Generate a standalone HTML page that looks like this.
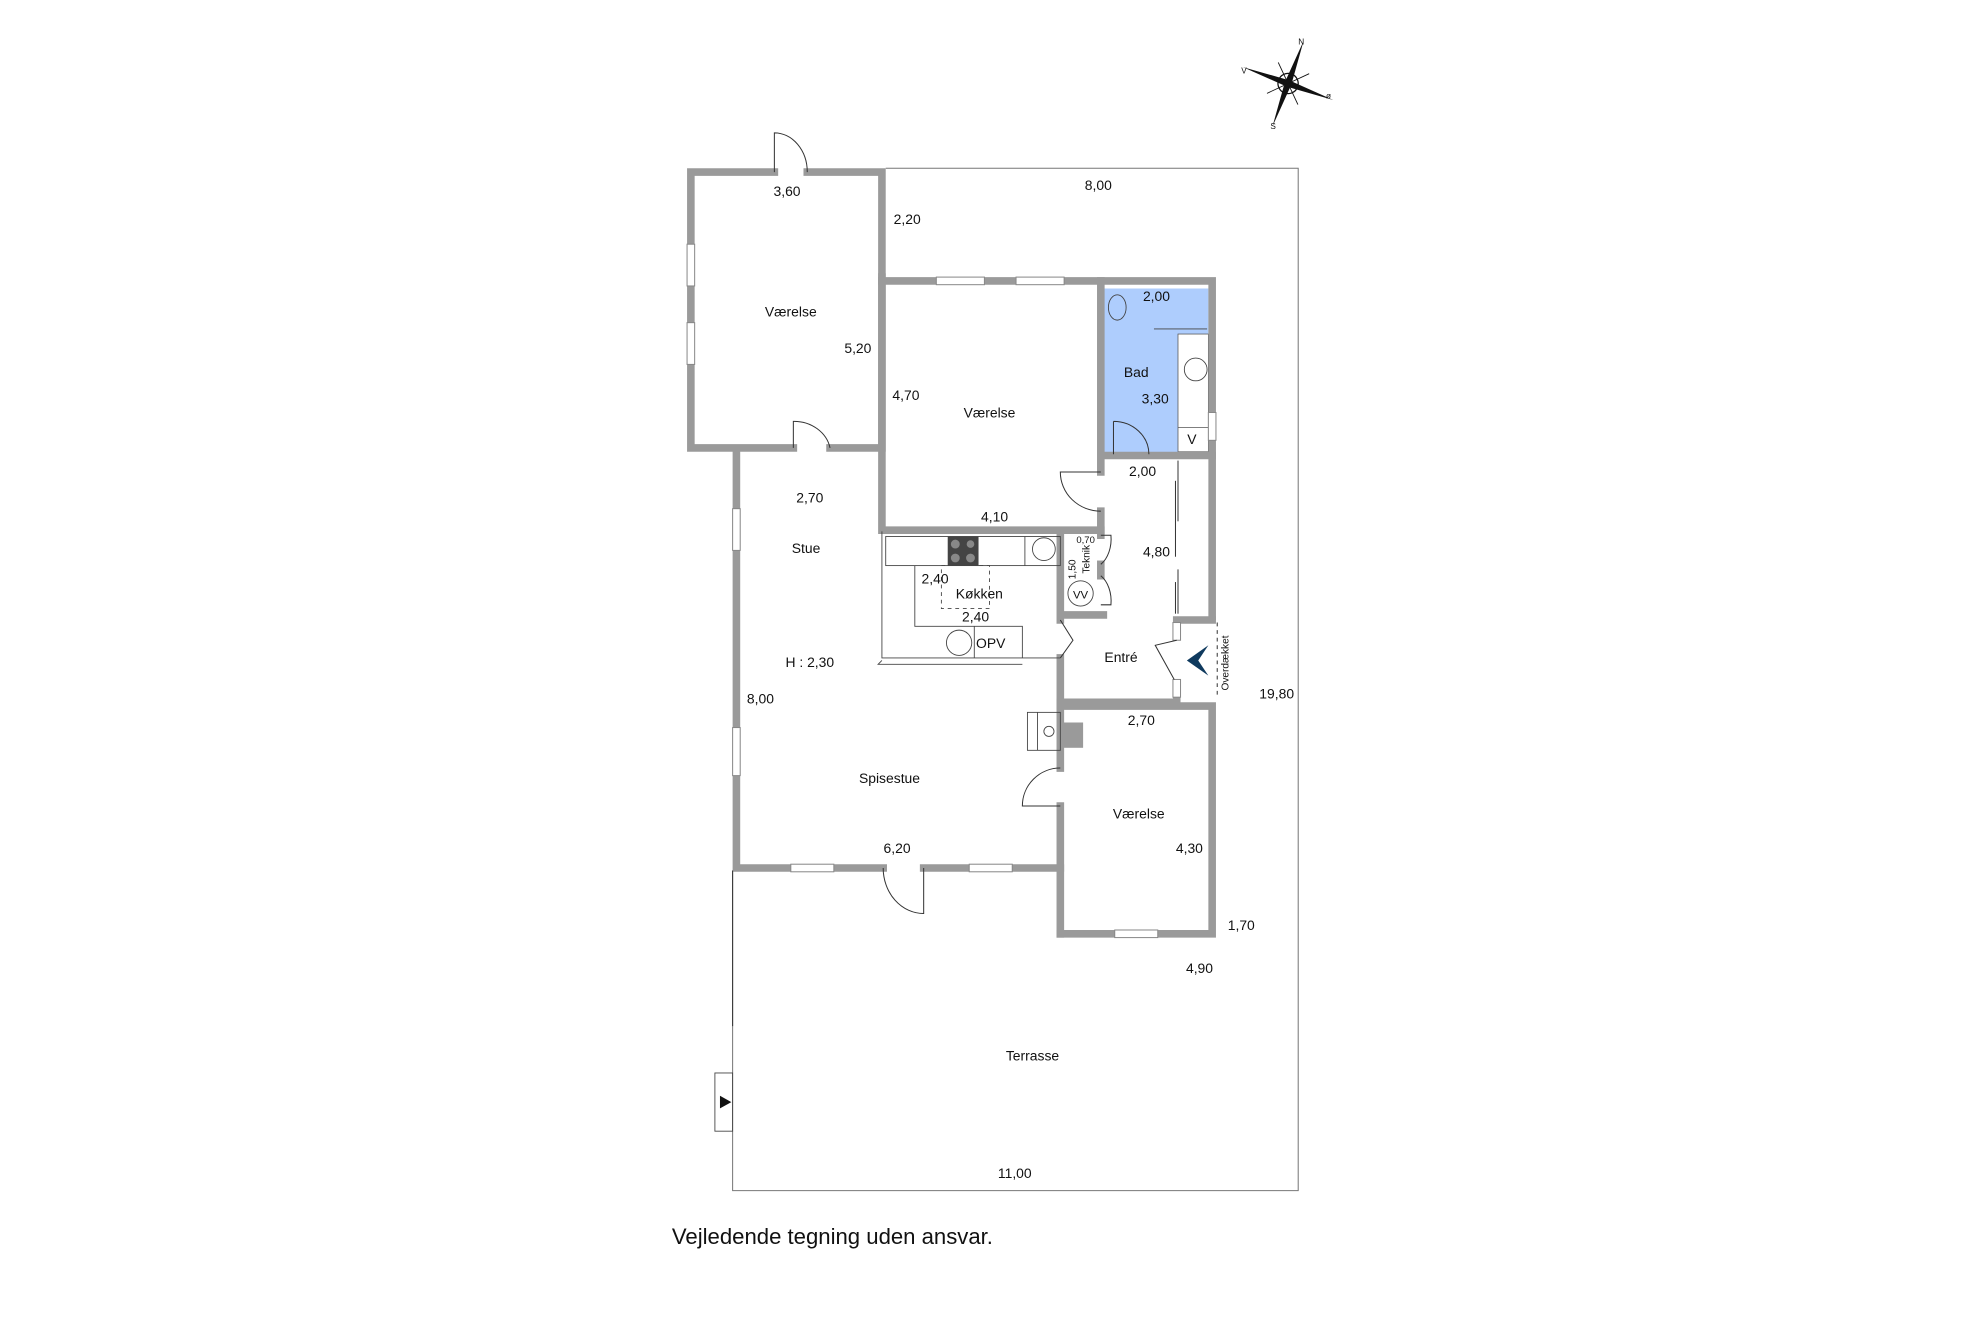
<!DOCTYPE html>
<html><head><meta charset="utf-8"><style>
html,body{margin:0;padding:0;background:#fff;}
svg{display:block;}
text{font-family:"Liberation Sans",sans-serif;fill:#111;}
</style></head><body>
<svg width="1984" height="1323" viewBox="0 0 1568 1045.6" xmlns="http://www.w3.org/2000/svg">
<rect width="1568" height="1046" fill="#fff"/>
<g fill="none" stroke="#777" stroke-width="0.8">
<polyline points="700,133 1026,133 1026,941 579,941 579,688"/>
</g>
<rect x="872" y="228" width="83" height="131" fill="#aecdfd"/>
<rect x="931" y="264" width="24" height="93" fill="#fff" stroke="#555" stroke-width="0.6"/>
<line x1="931" y1="338" x2="955" y2="338" stroke="#555" stroke-width="0.6"/>
<g fill="none" stroke="#9a9a9a" stroke-width="6" stroke-linecap="square">
<polyline points="612,136 546,136 546,354 627,354"/>
<polyline points="638,136 697,136 697,354 656,354"/>
<polyline points="582,357 582,686 698,686"/>
<polyline points="730,686 838,686"/>
<polyline points="697,219 697,419 870,419"/>
<polyline points="697,222 958,222 958,487"/>
<polyline points="870,222 870,373"/>
<line x1="870" y1="404" x2="870" y2="423"/>
<line x1="870" y1="446" x2="870" y2="455"/>
<polyline points="872,360 958,360"/>
<line x1="838" y1="420" x2="838" y2="490"/>
<line x1="838" y1="520" x2="838" y2="607"/>
<line x1="838" y1="637" x2="838" y2="738"/>
<polyline points="840,486 872,486"/>
<polyline points="838,555 930,555 930,543"/>
<polyline points="930,502 930,490 958,490"/>
<polyline points="838,558 958,558 958,738 838,738"/>
</g>
<rect x="840" y="571" width="16" height="20" fill="#9a9a9a"/>
<g fill="#fff" stroke="#888" stroke-width="0.8">
<rect x="543" y="193" width="6" height="33"/><rect x="543" y="255" width="6" height="33"/>
<rect x="740" y="219" width="38" height="6"/><rect x="803" y="219" width="38" height="6"/>
<rect x="579" y="402" width="6" height="33"/><rect x="579" y="575" width="6" height="38"/>
<rect x="625" y="683" width="34" height="6"/><rect x="766" y="683" width="34" height="6"/>
<rect x="881" y="735" width="34" height="6"/>
<rect x="955" y="326" width="6" height="22"/>
<rect x="927" y="492" width="6" height="14"/><rect x="927" y="537" width="6" height="14"/>
</g>
<g fill="none" stroke="#333" stroke-width="0.8">
<path d="M612,136 L612,105 A26,31 0 0 1 638,136"/>
<path d="M627,354 L627,333 A29,26 0 0 1 656,354"/>
<path d="M730,686 L730,722 A32,36 0 0 1 698,686"/>
<path d="M870,373 L838,373 A32,31 0 0 0 870,404"/>
<path d="M880,333 L880,359 M880,333 A28,26 0 0 1 908,359"/>
<path d="M870,423 L878,423 A16,23 0 0 1 870,446"/>
<path d="M870,455 A16,23 0 0 1 878,478 L870,478"/>
<path d="M838,490 L848,506 L838,520"/>
<path d="M838,607 A30,30 0 0 0 808,637 L838,637"/>
<path d="M930,506 L913,510 L928,537"/>
<line x1="931" y1="364" x2="931" y2="412"/><line x1="929" y1="380" x2="929" y2="440"/>
<line x1="931" y1="450" x2="931" y2="485"/><line x1="929" y1="460" x2="929" y2="485"/>
<line x1="962" y1="492" x2="962" y2="550" stroke-dasharray="3,3"/>
<line x1="579" y1="688" x2="579" y2="811"/>
</g>
<g fill="none" stroke="#444" stroke-width="0.7">
<polyline points="697,420 697,520 838,520"/>
<rect x="700" y="424" width="138" height="23"/>
<line x1="773" y1="424" x2="773" y2="447"/>
<line x1="810" y1="424" x2="810" y2="447"/>
<polyline points="723,447 723,495 808,495 808,520"/>
<polyline points="697,522 694,525 808,525"/>
<line x1="770" y1="495" x2="770" y2="520"/>
<rect x="744" y="447" width="38" height="34" stroke-dasharray="3,3"/>
<circle cx="758" cy="508" r="10"/>
<circle cx="825" cy="434" r="9"/>
<circle cx="854" cy="469" r="10"/>
<rect x="812" y="563" width="26" height="30"/><line x1="820" y1="563" x2="820" y2="593"/><circle cx="829" cy="578" r="4"/>
<rect x="565" y="848" width="14" height="46"/>
<circle cx="945" cy="292" r="9"/>
<ellipse cx="883" cy="243" rx="7" ry="10"/>
<line x1="912" y1="260" x2="954" y2="260"/>
</g>
<rect x="749" y="424" width="24" height="23" fill="#444"/>
<g fill="#888"><circle cx="755" cy="430" r="3.5"/><circle cx="767" cy="430" r="3"/><circle cx="755" cy="441" r="3.5"/><circle cx="767" cy="441" r="3.5"/></g>
<polygon points="569,866 578,871 569,876" fill="#111"/>
<polygon points="955,510 938,522 955,534 947,522" fill="#0f3a5e"/>
<g transform="translate(1018,66) rotate(20)">
<polygon points="0,-36 2.5,-3 0,0 -2.5,-3" fill="#111"/>
<polygon points="0,36 2.5,3 0,0 -2.5,3" fill="#111"/>
<polygon points="-38,0 -3,-2.5 0,0 -3,2.5" fill="#111"/>
<polygon points="38,0 3,-2.5 0,0 3,2.5" fill="#111"/>
<circle r="8" fill="none" stroke="#111" stroke-width="1"/>
<circle r="3.5" fill="#111"/>
<g stroke="#111" stroke-width="0.7"><line x1="-13" y1="-13" x2="13" y2="13"/><line x1="13" y1="-13" x2="-13" y2="13"/></g>
</g>
<g font-size="6.5"><text x="1026" y="35">N</text><text x="981" y="58">V</text><text x="1048" y="78">ø</text><text x="1004" y="102">S</text></g>
<g font-size="11" text-anchor="middle">
<text x="622" y="155">3,60</text>
<text x="868" y="150">8,00</text>
<text x="717" y="177">2,20</text>
<text x="625" y="250">Værelse</text>
<text x="678" y="279">5,20</text>
<text x="914" y="238">2,00</text>
<text x="898" y="298">Bad</text>
<text x="913" y="319">3,30</text>
<text x="942" y="351">V</text>
<text x="716" y="316">4,70</text>
<text x="782" y="330">Værelse</text>
<text x="903" y="376">2,00</text>
<text x="640" y="397">2,70</text>
<text x="786" y="412">4,10</text>
<text x="637" y="437">Stue</text>
<text x="914" y="440">4,80</text>
<text x="739" y="461">2,40</text>
<text x="774" y="473">Køkken</text>
<text x="771" y="491">2,40</text>
<text x="783" y="512">OPV</text>
<text x="854" y="473" font-size="9">VV</text>
<text x="886" y="523">Entré</text>
<text x="640" y="527">H : 2,30</text>
<text x="1009" y="552">19,80</text>
<text x="601" y="556">8,00</text>
<text x="902" y="573">2,70</text>
<text x="703" y="619">Spisestue</text>
<text x="900" y="647">Værelse</text>
<text x="940" y="674">4,30</text>
<text x="709" y="674">6,20</text>
<text x="981" y="735">1,70</text>
<text x="948" y="769">4,90</text>
<text x="816" y="838">Terrasse</text>
<text x="802" y="931">11,00</text>
</g>
<text x="858" y="429" font-size="7.5" text-anchor="middle">0,70</text>
<text transform="translate(850,450) rotate(-90)" font-size="8" text-anchor="middle">1,50</text>
<text transform="translate(861,442) rotate(-90)" font-size="8" text-anchor="middle">Teknik</text>
<text transform="translate(971,524) rotate(-90)" font-size="8" text-anchor="middle">Overdækket</text>
<text x="531" y="983" font-size="17.5">Vejledende tegning uden ansvar.</text>
</svg>
</body></html>
